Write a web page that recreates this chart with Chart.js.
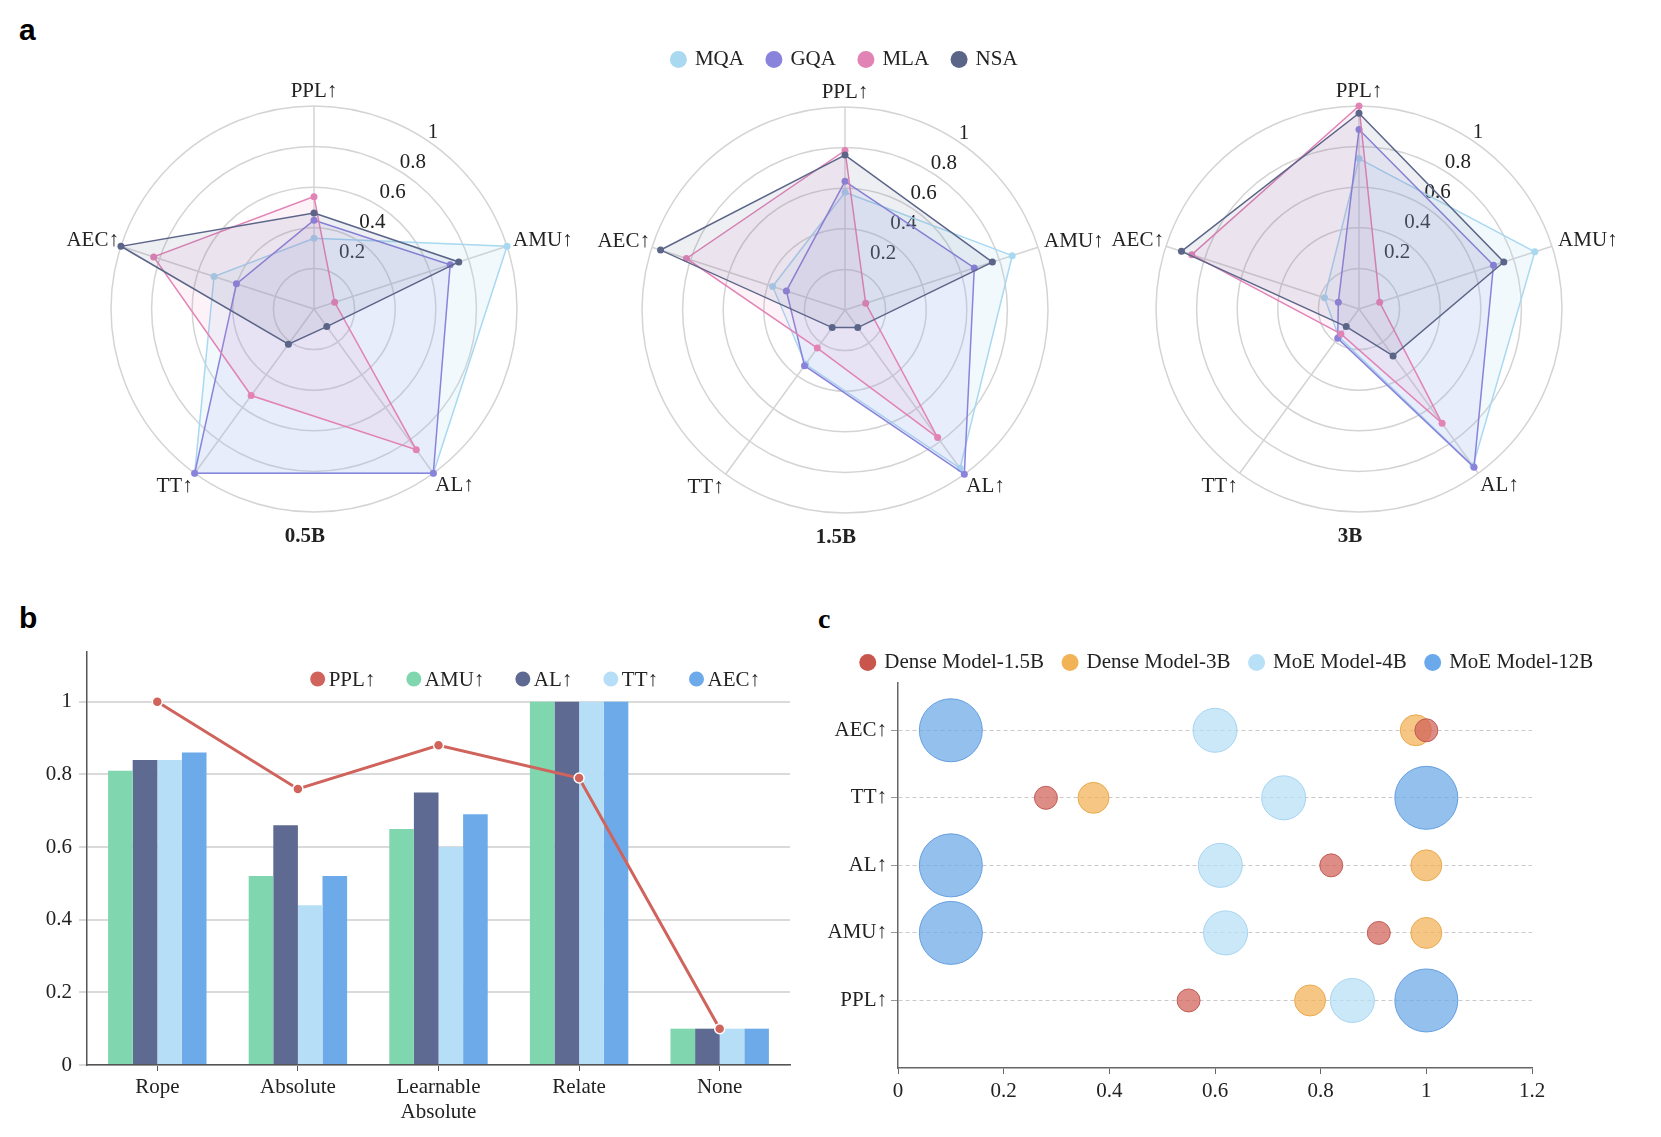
<!DOCTYPE html>
<html>
<head>
<meta charset="utf-8">
<script src="https://cdn.jsdelivr.net/npm/chart.js@4.4.1/dist/chart.umd.min.js"></script>
<style>
  body { margin: 0; background: #fff; font-family: 'Liberation Serif', serif; }
  #page { position: relative; width: 1661px; height: 1137px; overflow: hidden; background: #fff; }
  canvas { position: absolute; }
  .tag { position: absolute; font: bold 30px 'Liberation Sans', Arial, sans-serif; line-height: 30px; color: #000; }
</style>
</head>
<body>
<div id="page">
  <div class="tag" style="left:19px;top:15px">a</div>
  <div class="tag" style="left:19px;top:603px">b</div>
  <div class="tag" style="left:818px;top:605px;font:bold 28px 'Liberation Serif',serif;line-height:28px">c</div>
  <canvas id="r05" width="540" height="500" style="left:40px;top:60px"></canvas>
  <canvas id="r15" width="530" height="540" style="left:580px;top:20px"></canvas>
  <canvas id="r3" width="560" height="500" style="left:1090px;top:60px"></canvas>
  <canvas id="bars" width="800" height="497" style="left:0px;top:640px"></canvas>
  <canvas id="bubbles" width="861" height="511" style="left:800px;top:626px"></canvas>
</div>
<script>
// ---- panel a: radar data ----
const radarAxes = ['PPL↑', 'AMU↑', 'AL↑', 'TT↑', 'AEC↑'];
const radarModels = ['MQA', 'GQA', 'MLA', 'NSA'];
const radarTicks = [0.2, 0.4, 0.6, 0.8, 1];

const mqa05 = [0.27, 1.0, 1.0, 1.0, 0.46];
const gqa05 = [0.37, 0.67, 1.0, 1.0, 0.33];
const mla05 = [0.50, 0.0, 0.84, 0.47, 0.81];
const nsa05 = [0.41, 0.72, 0.0, 0.12, 1.0];

const mqa15 = [0.53, 0.85, 0.96, 0.25, 0.30];
const gqa15 = [0.59, 0.63, 1.0, 0.26, 0.22];
const mla15 = [0.76, 0.0, 0.75, 0.14, 0.80];
const nsa15 = [0.735, 0.735, 0.0, 0.0, 0.95];

const mqa3 = [0.71, 0.90, 0.95, 0.07, 0.08];
const gqa3 = [0.87, 0.66, 0.96, 0.08, 0.0];
const mla3 = [1.0, 0.0, 0.66, 0.05, 0.85];
const nsa3 = [0.96, 0.72, 0.20, 0.0, 0.91];

// ---- panel b: position encodings ----
const posCategories = ['Rope', 'Absolute', ['Learnable', 'Absolute'], 'Relate', 'None'];
const pplScores = [1.0, 0.76, 0.88, 0.79, 0.10];
const amuScores = [0.81, 0.52, 0.65, 1.0, 0.10];
const alScores = [0.84, 0.66, 0.75, 1.0, 0.10];
const ttScores = [0.84, 0.44, 0.60, 1.0, 0.10];
const aecScores = [0.86, 0.52, 0.69, 1.0, 0.10];

// ---- panel c: dense vs moe (metrics bottom to top) ----
const bubbleMetrics = ['PPL↑', 'AMU↑', 'AL↑', 'TT↑', 'AEC↑'];
const bubbleModels = ['Dense Model-1.5B', 'Dense Model-3B', 'MoE Model-4B', 'MoE Model-12B'];
const dense15B = [0.55, 0.91, 0.82, 0.28, 1.0];
const dense3B = [0.78, 1.0, 1.0, 0.37, 0.98];
const moe4B = [0.86, 0.62, 0.61, 0.73, 0.60];
const moe12B = [1.0, 0.10, 0.10, 1.0, 0.10];

const SERIF = "'Liberation Serif', 'Times New Roman', serif";
Chart.defaults.font.family = SERIF;
Chart.defaults.font.size = 21;
Chart.defaults.color = '#222';
Chart.defaults.animation = false;

const plainNum = (v) => String(Number(Number(v).toFixed(2)));

const radarColors = ['#a9d8f1', '#8a83dc', '#e283b6', '#5b6588'];
const radarFills = ['rgba(169,216,241,0.16)', 'rgba(138,131,220,0.10)', 'rgba(226,131,182,0.10)', 'rgba(91,101,136,0.10)'];

// axis names, tick numbers and the size caption drawn around the radial scale
const radarText = {
  id: 'radarText',
  beforeDatasetsDraw(chart, args, opts) {
    const r = chart.scales.r;
    const ctx = chart.ctx;
    ctx.save();
    ctx.fillStyle = '#222';
    ctx.font = '21px ' + SERIF;
    ctx.textAlign = 'center';
    ctx.textBaseline = 'middle';
    const a = (34 - 90) * Math.PI / 180;
    radarTicks.forEach(v => {
      const d = r.getDistanceFromCenterForValue(v) + 10;
      ctx.fillText(String(v), r.xCenter + Math.cos(a) * d, r.yCenter + Math.sin(a) * d);
    });
    const n = chart.data.labels.length;
    chart.data.labels.forEach((lab, i) => {
      const deg = i * 360 / n;
      const p = r.getPointPosition(i, r.drawingArea);
      let x = p.x, y = p.y, align = 'center';
      if (deg === 0) { y -= 15; }
      else if (deg < 90) { x += 6; y -= 6; align = 'left'; }
      else if (deg < 180) { x += 2; y += 12; align = 'left'; }
      else if (deg < 270) { x -= 2; y += 13; align = 'right'; }
      else { x -= 2; y -= 6; align = 'right'; }
      ctx.textAlign = align;
      ctx.fillText(lab, x, y);
    });
    ctx.font = 'bold 21px ' + SERIF;
    ctx.textAlign = 'center';
    ctx.fillText(opts.title, r.xCenter - 9, r.yCenter + 228);
    ctx.restore();
  }
};

// legend row drawn inside the plot area, right aligned
const insideLegend = {
  id: 'insideLegend',
  afterDatasetsDraw(chart, args, opts) {
    const { ctx, chartArea } = chart;
    ctx.save();
    ctx.font = '21px ' + SERIF;
    ctx.textBaseline = 'middle';
    const items = chart.data.datasets.map(d => ({ text: d.label, color: d.type === 'line' ? d.borderColor : d.backgroundColor }));
    const widths = items.map(it => 11 + ctx.measureText(it.text).width);
    const total = 7.5 + widths.reduce((s, w) => s + w, 0) + opts.gap * (items.length - 1);
    let x = chartArea.right - opts.right - total + 7.5;
    const y = chartArea.top + opts.top;
    items.forEach((it, i) => {
      ctx.fillStyle = it.color;
      ctx.beginPath();
      ctx.arc(x, y, 7.5, 0, Math.PI * 2);
      ctx.fill();
      ctx.fillStyle = '#222';
      ctx.fillText(it.text, x + 11, y + 1);
      x += widths[i] + opts.gap;
    });
    ctx.restore();
  }
};

function radar(id, series, title, padding, showLegend) {
  return new Chart(document.getElementById(id), {
    type: 'radar',
    data: {
      labels: radarAxes,
      datasets: series.map((vals, i) => ({
        label: radarModels[i],
        data: vals,
        order: 4 - i,
        clip: false,
        fill: 'start',
        backgroundColor: radarFills[i],
        borderColor: radarColors[i],
        borderWidth: 1.5,
        pointRadius: 3.5,
        pointBorderWidth: 0,
        pointBackgroundColor: radarColors[i],
        pointBorderColor: radarColors[i],
      })),
    },
    options: {
      responsive: false,
      layout: { padding: padding },
      plugins: {
        tooltip: { enabled: false },
        radarText: { title: title },
        legend: {
          display: showLegend,
          position: 'top',
          labels: {
            usePointStyle: true,
            pointStyle: 'circle',
            boxWidth: 12,
            boxHeight: 12,
            padding: 24,
            font: { size: 21 },
            sort: (a, b) => a.datasetIndex - b.datasetIndex,
          }
        }
      },
      scales: {
        r: {
          min: -0.12,
          max: 1,
          afterBuildTicks: (s) => {
            const rings = [];
            for (let k = 1; k <= 5; k++) rings.push({ value: s.min + (s.max - s.min) * k / 5 });
            s.ticks = rings;
          },
          ticks: { display: false },
          pointLabels: { display: false },
          grid: { circular: true, color: '#d4d4d4', lineWidth: 1.5 },
          angleLines: { color: '#d4d4d4', lineWidth: 1.5 },
        }
      }
    },
    plugins: [radarText]
  });
}

function drawAll() {
  radar('r05', [mqa05, gqa05, mla05, nsa05], '0.5B', { left: 71, right: 63, top: 46, bottom: 48 }, false);
  radar('r15', [mqa15, gqa15, mla15, nsa15], '1.5B', { left: 62, right: 62, top: 5, bottom: 20 }, true);
  radar('r3', [mqa3, gqa3, mla3, nsa3], '3B', { left: 66, right: 88, top: 46, bottom: 48 }, false);

  // ---- panel b ----
  const barColors = ['#80d6ae', '#5e6a91', '#b6def6', '#6daaea'];
  new Chart(document.getElementById('bars'), {
    type: 'bar',
    data: {
      labels: posCategories,
      datasets: [
        {
          type: 'line',
          label: 'PPL↑',
          data: pplScores,
          borderColor: '#d0635b',
          backgroundColor: '#d0635b',
          borderWidth: 3,
          pointRadius: 5,
          pointBackgroundColor: '#d0635b',
          pointBorderColor: '#fff',
          pointBorderWidth: 1.5,
          tension: 0,
        },
        { label: 'AMU↑', data: amuScores, backgroundColor: barColors[0] },
        { label: 'AL↑', data: alScores, backgroundColor: barColors[1] },
        { label: 'TT↑', data: ttScores, backgroundColor: barColors[2] },
        { label: 'AEC↑', data: aecScores, backgroundColor: barColors[3] },
      ]
    },
    options: {
      responsive: false,
      layout: { padding: { left: 0, right: 10, top: 12, bottom: 10 } },
      datasets: { bar: { categoryPercentage: 0.7, barPercentage: 1.0 } },
      plugins: {
        tooltip: { enabled: false },
        legend: { display: false },
        insideLegend: { gap: 38.5, right: 30, top: 27 },
      },
      scales: {
        x: {
          afterFit: (s) => { s.height = 62; },
          grid: { display: true, offset: false, drawOnChartArea: false, drawTicks: true, tickLength: 6, color: '#555' },
          border: { color: '#555', width: 1.5 },
          ticks: { padding: 4, font: { size: 21 } },
        },
        y: {
          min: 0,
          max: 1.137,
          afterFit: (s) => { s.width = 87; s.paddingTop = 0; s.paddingBottom = 0; },
          ticks: { stepSize: 0.2, includeBounds: false, padding: 7, font: { size: 21 }, callback: plainNum },
          grid: { color: '#dadada', lineWidth: 2, tickLength: 8 },
          border: { color: '#555', width: 1.5 },
        }
      }
    },
    plugins: [insideLegend]
  });

  // ---- panel c ----
  const bubbleFills = ['rgba(208,96,88,0.72)', 'rgba(242,178,84,0.72)', 'rgba(183,223,246,0.72)', 'rgba(107,167,232,0.72)'];
  const bubbleLines = ['rgba(190,84,76,0.9)', 'rgba(232,165,70,0.9)', 'rgba(160,208,238,0.9)', 'rgba(92,152,222,0.9)'];
  const bubbleKeys = ['#c9564d', '#f1b356', '#b8e0f6', '#6aa9ea'];
  const bubbleRadius = [11.5, 15.5, 22, 31.5];
  const bubbleSeries = [dense15B, dense3B, moe4B, moe12B];

  new Chart(document.getElementById('bubbles'), {
    type: 'bubble',
    data: {
      datasets: bubbleSeries.map((vals, i) => ({
        label: bubbleModels[i],
        data: vals.map((v, k) => ({ x: v, y: k })),
        radius: bubbleRadius[i],
        backgroundColor: bubbleFills[i],
        borderColor: bubbleLines[i],
        borderWidth: 1,
        clip: false,
      }))
    },
    options: {
      responsive: false,
      layout: { padding: { left: 14, right: 20, top: 6, bottom: 13 } },
      plugins: {
        tooltip: { enabled: false },
        legend: {
          position: 'top',
          align: 'center',
          labels: {
            usePointStyle: true,
            pointStyle: 'circle',
            boxWidth: 12,
            boxHeight: 12,
            padding: 20,
            font: { size: 21 },
            generateLabels: (chart) => Chart.defaults.plugins.legend.labels.generateLabels(chart)
              .map((item, i) => Object.assign(item, { fillStyle: bubbleKeys[i], strokeStyle: bubbleKeys[i], lineWidth: 0 })),
          }
        }
      },
      scales: {
        x: {
          min: 0,
          max: 1.2,
          afterFit: (s) => { s.height = 56; },
          ticks: { stepSize: 0.2, padding: 5, font: { size: 21 }, callback: plainNum },
          grid: { drawOnChartArea: false, drawTicks: true, tickLength: 6, color: '#666' },
          border: { color: '#666', width: 1.5 },
        },
        y: {
          min: -1,
          max: 4.7,
          afterFit: (s) => { s.width = 84; },
          afterBuildTicks: (s) => { s.ticks = bubbleMetrics.map((m, k) => ({ value: k })); },
          ticks: { padding: 4, font: { size: 21 }, callback: (v) => bubbleMetrics[v] },
          grid: { color: '#cacaca', lineWidth: 1, tickLength: 7, tickColor: '#999' },
          border: { color: '#666', width: 1.5, dash: [4, 3] },
        },
        pad: {
          type: 'linear',
          position: 'right',
          afterFit: (s) => { s.width = 109; },
          grid: { display: false },
          border: { display: false },
          ticks: { display: false },
        }
      }
    }
  });
}

// make sure the serif face is ready before the canvases draw text
Promise.all([
  document.fonts.load("21px 'Liberation Serif'"),
  document.fonts.load("bold 21px 'Liberation Serif'"),
]).then(drawAll, drawAll);
</script>
</body>
</html>
